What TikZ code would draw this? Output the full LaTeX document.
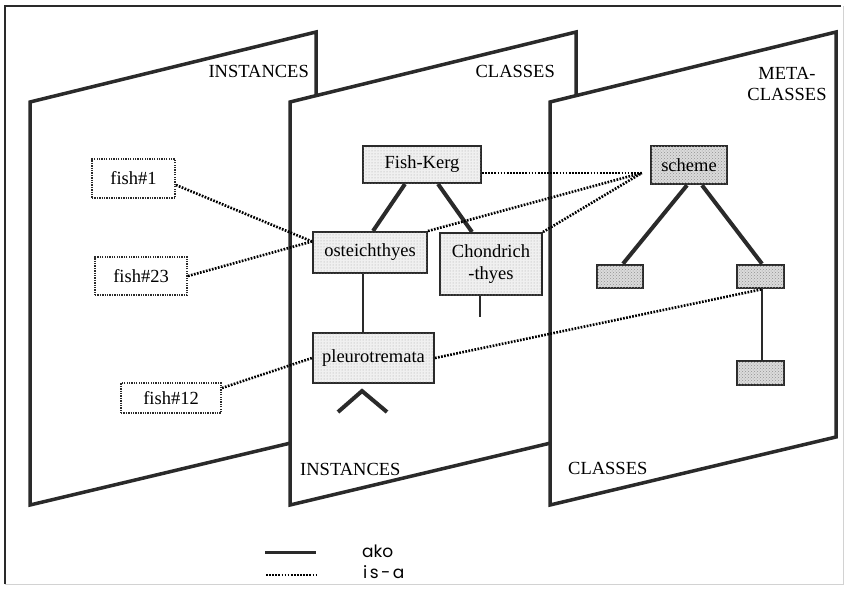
\documentclass[tikz,border=0pt]{standalone}
\usepackage{fontspec}
\setmainfont{Liberation Serif}
\newfontfamily\legendfont{Poppins}
\newfontfamily\legendfontsp[LetterSpace=14]{Poppins}
\usetikzlibrary{patterns}
\definecolor{ink}{HTML}{2A2A2A}

\begin{document}
\begin{tikzpicture}[x=1pt,y=-1pt,
  plane/.style={draw=ink, fill=white, line width=3.5pt, line join=miter},
  lbl/.style={font=\fontsize{18.5}{21}\selectfont, text=black, inner sep=0pt},
  classbox/.style={draw=ink, line width=2pt, fill=gray!12,
    postaction={pattern=dots, pattern color=gray!70},
    inner sep=0pt, text=black, font=\fontsize{18.5}{22}\selectfont},
  metabox/.style={draw=ink, line width=2.5pt, fill=gray!28,
    postaction={pattern=crosshatch dots, pattern color=gray!85},
    inner sep=0pt, text=black, font=\fontsize{18.5}{22}\selectfont},
  instbox/.style={draw=ink, line width=2pt, dash pattern=on 1.3pt off 1.1pt,
    fill=white, inner sep=0pt, text=black, font=\fontsize{18.5}{22}\selectfont},
  ako/.style={draw=ink, line width=4pt},
  akothin/.style={draw=ink, line width=2.6pt},
  isa/.style={draw=black, line width=2.6pt, dash pattern=on 1.7pt off 1.4pt},
]
\useasboundingbox (0,0) rectangle (846,589);
\fill[white] (0,0) rectangle (846,589);

% outer frame
\draw[gray!35, line width=1pt] (843,6) -- (843,584) -- (5,584);
\draw[ink, line width=2.5pt] (5,584) -- (5,6) -- (841,6);

% the three planes, back to front
\draw[plane] (30,102) -- (316,32) -- (316,437) -- (30,505) -- cycle;
\draw[plane] (290,102) -- (576,32) -- (576,437) -- (290,505) -- cycle;
\draw[plane] (550,102) -- (836,32) -- (836,437) -- (550,505) -- cycle;

% plane titles
\node[lbl, anchor=base east] (tinst) at (309,77) {INSTANCES};
\node[lbl, anchor=base east] (tcls) at (555,77) {CLASSES};
\node[lbl, anchor=base] (tmeta1) at (787,79) {META-};
\node[lbl, anchor=base] (tmeta2) at (787,100) {CLASSES};
\node[lbl, anchor=base west] (binst) at (300,475) {INSTANCES};
\node[lbl, anchor=base west] (bcls) at (568,474) {CLASSES};

% instances
\node[instbox, minimum width=83pt, minimum height=39pt] (f1) at (133.5,178.5) {fish\#1};
\node[instbox, minimum width=92pt, minimum height=38pt] (f23) at (141,276) {fish\#23};
\node[instbox, minimum width=100pt, minimum height=30pt] (f12) at (171,398) {fish\#12};

% classes
\node[classbox, minimum width=118pt, minimum height=37pt] (fk) at (422,164.5) {Fish-Kerg};
\node[classbox, minimum width=114pt, minimum height=41pt] (ost) at (370,252.5) {osteichthyes};
\node[classbox, minimum width=102pt, minimum height=62pt, align=center] (ch) at (491,264) {Chondrich\\-thyes};
\node[classbox, minimum width=121pt, minimum height=50pt] (pleu) at (373.5,358) {pleurotremata};

% metaclasses
\node[metabox, minimum width=76pt, minimum height=38pt] (sch) at (689,165) {scheme};
\node[metabox, minimum width=46pt, minimum height=23pt] (ml) at (620,276.5) {};
\node[metabox, minimum width=47pt, minimum height=23pt] (mr) at (760.5,276.5) {};
\node[metabox, minimum width=47pt, minimum height=24pt] (mb) at (760.5,373) {};

% free ends
\coordinate (chend) at (480,317);
\coordinate (apex) at (362,391);
\coordinate (legL) at (338,412);
\coordinate (legR) at (387,412);
\coordinate (ostin) at ([yshift=11pt]ost.west);
\coordinate (conv) at ([shift={(-8pt,-8pt)}]sch.west);

% ako links
\draw[ako] ([xshift=-17pt]fk.south) -- ([xshift=3pt]ost.north);
\draw[ako] ([xshift=16pt]fk.south) -- ([xshift=-19pt]ch.north);
\draw[akothin] ([xshift=-7pt]ost.south) -- ([xshift=-10.5pt]pleu.north);
\draw[akothin] ([xshift=-11pt]ch.south) -- (chend);
\draw[ako, line join=miter] (legL) -- (apex) -- (legR);
\draw[ako] ([xshift=-2pt]sch.south) -- ([xshift=3pt]ml.north);
\draw[ako] ([xshift=13pt]sch.south) -- ([xshift=1.5pt]mr.north);
\draw[akothin] ([xshift=1.5pt]mr.south) -- ([xshift=1.5pt]mb.north);

% is-a links
\draw[isa] ([yshift=-6.5pt]f1.east) -- (ostin);
\draw[isa] (f23.east) -- (ostin);
\draw[isa] ([yshift=10pt]f12.east) -- (pleu.west);
\draw[isa] ([yshift=-8.5pt]fk.east) -- (conv);
\draw[isa] (ost.north east) -- (conv);
\draw[isa] (ch.north east) -- (conv);
\draw[isa] (pleu.east) -- ([xshift=1.5pt]mr.south);

% legend
\coordinate (la1) at (265,552);
\coordinate (la2) at (316,552);
\coordinate (lb1) at (266,575);
\coordinate (lb2) at (316,575);
\draw[draw=ink, line width=3pt] (la1) -- (la2);
\draw[isa] (lb1) -- (lb2);
\node[anchor=base west, inner sep=0pt, text=black, font=\legendfont\fontsize{17}{20}\selectfont] (lako) at (362,557) {ako};
\node[anchor=base west, inner sep=0pt, text=black, font=\legendfontsp\fontsize{17}{20}\selectfont] (lisa) at (363,578) {is-a};
\end{tikzpicture}
\end{document}
